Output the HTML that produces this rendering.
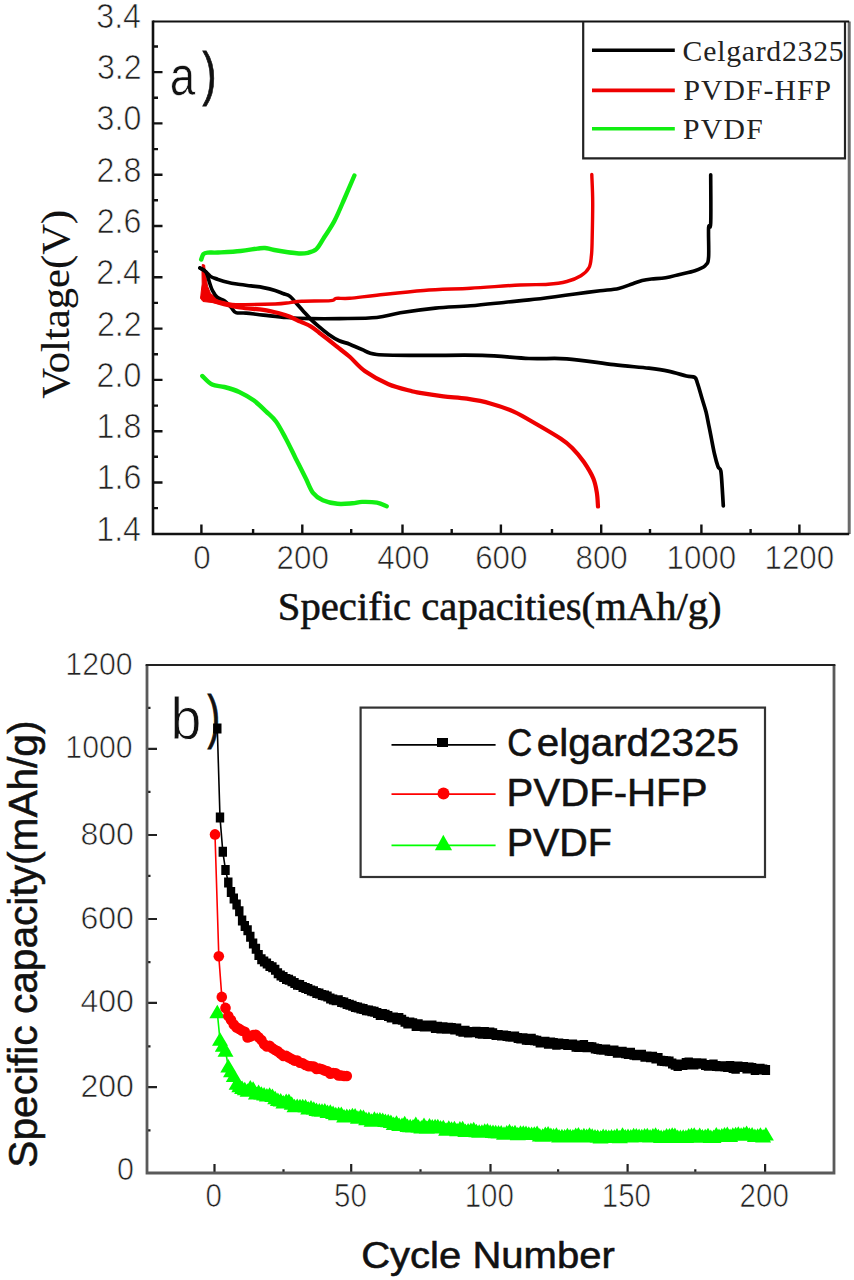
<!DOCTYPE html><html><head><meta charset="utf-8"><style>html,body{margin:0;padding:0;background:#fff;}svg{display:block;}</style></head><body>
<svg width="854" height="1280" viewBox="0 0 854 1280">
<rect width="854" height="1280" fill="#fff"/>
<path d="M153.0,508.1 h5 M153.0,482.5 h9.5 M153.0,456.8 h5 M153.0,431.2 h9.5 M153.0,405.6 h5 M153.0,379.9 h9.5 M153.0,354.2 h5 M153.0,328.6 h9.5 M153.0,302.9 h5 M153.0,277.3 h9.5 M153.0,251.6 h5 M153.0,226.0 h9.5 M153.0,200.3 h5 M153.0,174.7 h9.5 M153.0,149.1 h5 M153.0,123.4 h9.5 M153.0,97.7 h5 M153.0,72.1 h9.5 M153.0,46.5 h5 M201.4,534.0 v-9.5 M253.1,534.0 v-5 M302.3,534.0 v-9.5 M351.2,534.0 v-5 M402.5,534.0 v-9.5 M451.7,534.0 v-5 M500.9,534.0 v-9.5 M552.0,534.0 v-5 M601.2,534.0 v-9.5 M650.0,534.0 v-5 M701.4,534.0 v-9.5 M750.6,534.0 v-5 M799.4,534.0 v-9.5" stroke="#111" stroke-width="2.4" fill="none"/>
<text transform="translate(96.24,540.74) scale(0.9300,1)" font-family='"Liberation Sans", sans-serif' font-size="34.60" fill="#222" stroke="#fff" stroke-width="0.7">1.4</text>
<text transform="translate(96.72,489.44) scale(0.9300,1)" font-family='"Liberation Sans", sans-serif' font-size="34.60" fill="#222" stroke="#fff" stroke-width="0.7">1.6</text>
<text transform="translate(96.56,438.14) scale(0.9300,1)" font-family='"Liberation Sans", sans-serif' font-size="34.60" fill="#222" stroke="#fff" stroke-width="0.7">1.8</text>
<text transform="translate(96.56,386.84) scale(0.9300,1)" font-family='"Liberation Sans", sans-serif' font-size="34.60" fill="#222" stroke="#fff" stroke-width="0.7">2.0</text>
<text transform="translate(96.88,335.71) scale(0.9300,1)" font-family='"Liberation Sans", sans-serif' font-size="34.60" fill="#222" stroke="#fff" stroke-width="0.7">2.2</text>
<text transform="translate(96.24,284.41) scale(0.9300,1)" font-family='"Liberation Sans", sans-serif' font-size="34.60" fill="#222" stroke="#fff" stroke-width="0.7">2.4</text>
<text transform="translate(96.72,232.94) scale(0.9300,1)" font-family='"Liberation Sans", sans-serif' font-size="34.60" fill="#222" stroke="#fff" stroke-width="0.7">2.6</text>
<text transform="translate(96.56,181.64) scale(0.9300,1)" font-family='"Liberation Sans", sans-serif' font-size="34.60" fill="#222" stroke="#fff" stroke-width="0.7">2.8</text>
<text transform="translate(96.56,130.34) scale(0.9300,1)" font-family='"Liberation Sans", sans-serif' font-size="34.60" fill="#222" stroke="#fff" stroke-width="0.7">3.0</text>
<text transform="translate(96.88,79.04) scale(0.9300,1)" font-family='"Liberation Sans", sans-serif' font-size="34.60" fill="#222" stroke="#fff" stroke-width="0.7">3.2</text>
<text transform="translate(96.24,27.74) scale(0.9300,1)" font-family='"Liberation Sans", sans-serif' font-size="34.60" fill="#222" stroke="#fff" stroke-width="0.7">3.4</text>
<text transform="translate(193.21,568.96) scale(0.9350,1)" font-family='"Liberation Sans", sans-serif' font-size="33.50" fill="#222" stroke="#fff" stroke-width="0.7">0</text>
<text transform="translate(276.57,568.96) scale(0.9350,1)" font-family='"Liberation Sans", sans-serif' font-size="33.50" fill="#222" stroke="#fff" stroke-width="0.7">200</text>
<text transform="translate(377.16,568.96) scale(0.9350,1)" font-family='"Liberation Sans", sans-serif' font-size="33.50" fill="#222" stroke="#fff" stroke-width="0.7">400</text>
<text transform="translate(475.17,568.96) scale(0.9350,1)" font-family='"Liberation Sans", sans-serif' font-size="33.50" fill="#222" stroke="#fff" stroke-width="0.7">600</text>
<text transform="translate(575.55,568.96) scale(0.9350,1)" font-family='"Liberation Sans", sans-serif' font-size="33.50" fill="#222" stroke="#fff" stroke-width="0.7">800</text>
<text transform="translate(666.51,568.96) scale(0.9350,1)" font-family='"Liberation Sans", sans-serif' font-size="33.50" fill="#222" stroke="#fff" stroke-width="0.7">1000</text>
<text transform="translate(764.51,568.96) scale(0.9350,1)" font-family='"Liberation Sans", sans-serif' font-size="33.50" fill="#222" stroke="#fff" stroke-width="0.7">1200</text>
<text transform="translate(277.85,620.20) scale(1.0023,1)" font-family='"Liberation Serif", serif' font-size="40.60" fill="#111" stroke="#111" stroke-width="0.55">Specific capacities(mAh/g)</text>
<text transform="translate(69.40,398.63) rotate(-90) scale(1.0816,1)" font-family='"Liberation Serif", serif' font-size="39.50" fill="#111" stroke="#111" stroke-width="0.15">Voltage(V)</text>
<text transform="translate(169.64,95.34) scale(0.8247,1)" font-family='"Liberation Sans", sans-serif' font-size="55.64" fill="#111" stroke="#fff" stroke-width="0.7">a</text>
<text transform="translate(202.58,94.08) scale(0.7088,1)" font-family='"Liberation Sans", sans-serif' font-size="59.14" fill="#111" stroke="#111" stroke-width="0.8">)</text>
<path d="M201.2,259.5 C201.6,258.6 202.4,255.2 203.5,254.0 C204.6,252.8 205.6,252.8 208.0,252.6 C210.4,252.3 212.6,252.8 218.0,252.5 C223.4,252.2 234.0,251.7 240.6,251.0 C247.2,250.3 253.4,249.1 257.5,248.6 C261.6,248.1 262.2,247.8 265.0,248.0 C267.8,248.2 269.0,249.1 274.3,250.0 C279.6,250.9 291.2,252.8 296.8,253.3 C302.4,253.8 304.7,253.5 308.0,252.8 C311.3,252.1 313.8,251.6 316.5,249.0 C319.2,246.4 321.4,241.7 324.4,237.0 C327.4,232.3 331.1,227.3 334.4,221.0 C337.7,214.7 341.0,206.6 344.3,199.0 C347.6,191.4 352.7,179.4 354.4,175.5" stroke="#12ee12" stroke-width="4.4" fill="none" stroke-linejoin="round" stroke-linecap="round"/>
<path d="M202.3,376.0 C203.9,377.4 208.4,382.8 212.1,384.6 C215.8,386.4 219.9,385.8 224.4,387.0 C228.9,388.2 234.3,389.7 239.2,392.0 C244.1,394.3 249.5,397.3 254.0,400.6 C258.5,403.9 262.5,408.1 266.2,411.6 C269.9,415.1 272.7,417.0 276.0,421.5 C279.3,426.0 282.6,432.6 285.9,438.7 C289.2,444.8 292.4,451.8 295.7,458.4 C299.0,464.9 302.7,472.3 305.6,478.0 C308.5,483.7 310.1,489.1 313.0,492.8 C315.9,496.5 318.7,498.4 322.8,500.2 C326.9,502.0 332.6,503.3 337.5,503.8 C342.4,504.3 348.2,503.6 352.3,503.3 C356.4,503.0 358.0,502.0 362.1,501.9 C366.2,501.8 372.8,501.9 376.9,502.6 C381.0,503.3 385.1,505.7 386.7,506.3" stroke="#12ee12" stroke-width="4.4" fill="none" stroke-linejoin="round" stroke-linecap="round"/>
<path d="M202.3,264.5 L204.6,265.0 L205.6,275.0 L207.5,286.0 L210.5,293.5 L216.0,297.5 L222.0,300.0 L222.0,304.5 L212.0,302.5 L203.0,301.5 L200.6,298.5 L201.2,292.0 L202.2,284.0 L202.0,272.0Z" fill="#ee0000" stroke="#ee0000" stroke-width="1" stroke-linejoin="round"/>
<path d="M200.0,268.0 C201.0,268.6 204.3,269.4 205.9,271.9 C207.5,274.4 208.6,280.0 209.7,283.1 C210.8,286.2 211.2,288.2 212.5,290.6 C213.8,293.0 215.2,295.5 217.2,297.2 C219.2,298.9 222.4,299.2 224.7,300.9 C227.0,302.6 229.3,305.6 231.2,307.5 C233.1,309.4 233.4,311.7 235.9,312.6 C238.4,313.5 241.6,312.7 246.2,313.1 C250.8,313.5 256.6,314.4 263.4,315.1 C270.2,315.8 279.0,316.9 286.8,317.5 C294.6,318.1 301.5,318.4 310.3,318.6 C319.1,318.8 328.4,318.8 339.5,318.6 C350.6,318.4 366.7,318.5 376.8,317.5 C386.9,316.5 390.5,314.4 400.3,312.8 C410.1,311.2 423.7,309.3 435.4,308.1 C447.1,306.9 458.8,306.8 470.5,305.8 C482.2,304.8 495.9,303.2 505.6,302.2 C515.4,301.2 520.8,300.8 529.0,299.9 C537.2,299.0 547.4,297.7 555.1,296.7 C562.8,295.7 567.5,295.0 575.0,294.0 C582.5,293.0 592.7,291.6 600.0,290.7 C607.3,289.8 613.2,289.6 618.7,288.4 C624.2,287.2 628.9,285.0 632.8,283.7 C636.7,282.4 639.1,281.3 642.2,280.5 C645.3,279.7 647.6,279.4 651.5,279.0 C655.4,278.6 660.9,278.6 665.6,277.8 C670.3,277.0 674.7,275.6 679.6,274.4 C684.5,273.2 690.6,272.2 694.9,270.7 C699.2,269.2 703.1,267.7 705.4,265.4 C707.7,263.1 708.1,263.3 708.6,257.0 C709.1,250.7 708.2,233.1 708.6,227.5 C709.0,221.9 710.4,232.0 710.7,223.2 C711.1,214.4 710.7,182.9 710.7,174.8" stroke="#000" stroke-width="3.6" fill="none" stroke-linejoin="round" stroke-linecap="round"/>
<path d="M200.0,268.0 C201.0,268.6 204.1,270.5 205.9,271.9 C207.7,273.3 208.6,275.2 210.6,276.5 C212.6,277.8 215.3,278.4 218.1,279.4 C220.9,280.3 224.4,281.4 227.5,282.2 C230.6,283.0 232.9,283.4 236.8,284.0 C240.7,284.6 246.5,285.3 250.9,285.9 C255.3,286.5 259.4,286.8 263.4,287.6 C267.4,288.4 271.8,289.5 275.1,290.5 C278.4,291.5 280.5,292.5 283.0,293.5 C285.5,294.5 287.7,294.6 290.0,296.4 C292.3,298.2 294.7,301.5 297.0,304.1 C299.3,306.7 301.6,309.3 304.0,311.9 C306.4,314.5 308.8,317.3 311.1,319.6 C313.5,321.9 315.2,323.4 318.1,325.9 C321.0,328.4 325.2,331.9 328.7,334.4 C332.2,336.9 335.7,339.1 339.2,340.7 C342.7,342.3 345.9,342.7 349.7,344.2 C353.5,345.7 357.5,347.8 362.0,349.5 C366.5,351.2 366.5,353.5 376.8,354.5 C387.1,355.5 406.1,355.2 423.7,355.4 C441.3,355.5 464.6,354.9 482.2,355.4 C499.8,355.9 514.9,357.9 529.0,358.5 C543.1,359.1 552.7,357.8 566.8,358.8 C580.9,359.8 600.0,363.1 613.7,364.7 C627.4,366.3 639.7,367.1 648.8,368.2 C657.9,369.3 661.8,369.8 668.1,371.1 C674.4,372.4 682.0,374.9 686.4,376.0 C690.8,377.1 692.9,376.1 694.8,377.4 C696.7,378.7 696.4,380.3 697.6,383.7 C698.8,387.1 700.4,393.1 701.8,397.8 C703.2,402.5 704.8,407.1 706.0,411.8 C707.2,416.5 707.9,421.2 708.9,425.9 C709.9,430.6 710.8,435.3 711.7,440.0 C712.6,444.7 713.5,449.6 714.5,454.0 C715.5,458.4 717.0,463.8 718.0,466.6 C719.0,469.4 720.1,467.3 720.8,470.8 C721.5,474.3 721.8,481.8 722.2,487.7 C722.6,493.6 723.1,502.9 723.3,506.0" stroke="#000" stroke-width="3.7" fill="none" stroke-linejoin="round" stroke-linecap="round"/>
<path d="M202.2,297.2 C206.4,298.3 221.2,302.5 227.5,303.7 C233.8,304.9 232.1,304.6 240.0,304.6 C247.9,304.7 266.8,304.3 275.1,304.0 C283.4,303.7 285.5,303.1 290.0,302.6 C294.5,302.1 295.1,301.5 301.9,301.2 C308.7,300.9 325.1,301.1 330.8,300.6 C336.5,300.1 332.9,298.8 336.0,298.4 C339.1,298.0 342.9,298.8 349.7,298.3 C356.5,297.8 364.5,296.5 376.8,295.2 C389.1,293.9 408.1,291.7 423.7,290.5 C439.3,289.3 454.4,289.1 470.5,288.2 C486.6,287.3 507.1,285.6 520.0,285.0 C532.9,284.4 540.3,284.9 548.1,284.3 C555.9,283.7 561.3,282.9 566.8,281.5 C572.3,280.1 577.2,278.0 580.9,275.7 C584.6,273.4 587.4,270.8 589.1,267.5 C590.9,264.2 590.9,260.1 591.4,255.8 C591.9,251.5 591.9,250.6 592.1,241.7 C592.3,232.8 592.8,213.4 592.7,202.2 C592.7,191.0 591.9,179.1 591.8,174.5" stroke="#ee0000" stroke-width="3.4" fill="none" stroke-linejoin="round" stroke-linecap="round"/>
<path d="M206.0,298.0 C208.0,298.8 212.3,300.9 218.0,302.5 C223.7,304.1 232.4,306.3 240.0,307.5 C247.6,308.7 256.7,308.9 263.4,309.9 C270.1,310.9 275.6,312.4 280.0,313.5 C284.4,314.6 286.6,315.4 290.0,316.8 C293.4,318.2 297.0,320.1 300.5,321.7 C304.0,323.3 307.9,324.7 311.1,326.6 C314.3,328.5 316.6,330.8 319.5,333.0 C322.4,335.2 325.4,337.4 328.7,340.0 C332.0,342.6 335.7,345.6 339.2,348.4 C342.7,351.2 345.4,353.0 349.7,356.8 C354.0,360.6 358.6,366.7 365.1,371.3 C371.6,375.9 380.7,380.9 388.5,384.2 C396.3,387.5 406.8,389.8 412.0,391.2 C417.2,392.6 414.8,392.0 420.0,392.9 C425.2,393.8 435.6,395.4 443.4,396.4 C451.2,397.4 459.0,397.5 466.8,398.7 C474.6,399.9 482.5,401.2 490.3,403.4 C498.1,405.5 505.9,408.1 513.7,411.6 C521.5,415.1 529.3,420.0 537.1,424.5 C544.9,429.0 554.6,434.6 560.5,438.5 C566.4,442.4 568.3,444.0 572.2,447.9 C576.1,451.8 580.4,456.9 583.9,462.0 C587.4,467.1 591.1,473.3 593.3,478.4 C595.4,483.5 596.0,487.7 596.8,492.4 C597.6,497.1 597.8,504.1 598.0,506.5" stroke="#ee0000" stroke-width="4.2" fill="none" stroke-linejoin="round" stroke-linecap="round"/>
<path d="M849.2,21.5 V534.0" stroke="#6a6a6a" stroke-width="3"/>
<path d="M153.0,21.5 H849.2" stroke="#111" stroke-width="2"/>
<path d="M153.0,20.5 V534.0 H849.2" stroke="#111" stroke-width="2.6" fill="none"/>
<path d="M583.2,21.5 V158.3 H845 V21.5" stroke="#222" stroke-width="2.2" fill="none"/>
<path d="M592,50.3 H674.8" stroke="#000" stroke-width="3.6"/>
<path d="M592,90.4 H674.8" stroke="#ee0000" stroke-width="3.6"/>
<path d="M592,128.7 H674.8" stroke="#12ee12" stroke-width="3.6"/>
<text x="682.61" y="60.60" font-family='"Liberation Serif", serif' font-size="29.70" fill="#222" textLength="160.99" lengthAdjust="spacing" >Celgard2325</text>
<text x="683.41" y="100.00" font-family='"Liberation Serif", serif' font-size="29.70" fill="#222" textLength="147.56" lengthAdjust="spacing" >PVDF-HFP</text>
<text x="682.91" y="138.60" font-family='"Liberation Serif", serif' font-size="29.70" fill="#222" textLength="79.78" lengthAdjust="spacing" >PVDF</text>
<path d="M147.0,1130.3 h3.5 M147.0,1087.2 h10 M147.0,1046.3 h3.5 M147.0,1002.8 h10 M147.0,962.1 h3.5 M147.0,919.0 h10 M147.0,875.9 h3.5 M147.0,835.0 h10 M147.0,791.9 h3.5 M147.0,748.8 h10 M147.0,707.9 h3.5 M214.5,1173.0 v-9 M283.5,1173.0 v-3.8 M351.2,1173.0 v-9 M420.5,1173.0 v-3.8 M490.5,1173.0 v-9 M558.1,1173.0 v-3.8 M627.6,1173.0 v-9 M695.3,1173.0 v-3.8 M765.1,1173.0 v-9" stroke="#222" stroke-width="2.2" fill="none"/>
<text transform="translate(116.90,1179.77) scale(0.9500,1)" font-family='"Liberation Sans", sans-serif' font-size="32.10" fill="#222" stroke="#fff" stroke-width="0.7">0</text>
<text transform="translate(80.44,1096.77) scale(1.0000,1)" font-family='"Liberation Sans", sans-serif' font-size="32.10" fill="#222" stroke="#fff" stroke-width="0.7">200</text>
<text transform="translate(80.44,1012.37) scale(1.0000,1)" font-family='"Liberation Sans", sans-serif' font-size="32.10" fill="#222" stroke="#fff" stroke-width="0.7">400</text>
<text transform="translate(80.44,928.57) scale(1.0000,1)" font-family='"Liberation Sans", sans-serif' font-size="32.10" fill="#222" stroke="#fff" stroke-width="0.7">600</text>
<text transform="translate(80.44,844.57) scale(1.0000,1)" font-family='"Liberation Sans", sans-serif' font-size="32.10" fill="#222" stroke="#fff" stroke-width="0.7">800</text>
<text transform="translate(65.33,758.37) scale(0.9420,1)" font-family='"Liberation Sans", sans-serif' font-size="32.10" fill="#222" stroke="#fff" stroke-width="0.7">1000</text>
<text transform="translate(65.33,674.57) scale(0.9420,1)" font-family='"Liberation Sans", sans-serif' font-size="32.10" fill="#222" stroke="#fff" stroke-width="0.7">1200</text>
<text transform="translate(205.52,1207.18) scale(0.9100,1)" font-family='"Liberation Sans", sans-serif' font-size="32.40" fill="#222" stroke="#fff" stroke-width="0.7">0</text>
<text transform="translate(334.04,1207.18) scale(0.9100,1)" font-family='"Liberation Sans", sans-serif' font-size="32.40" fill="#222" stroke="#fff" stroke-width="0.7">50</text>
<text transform="translate(464.64,1207.18) scale(0.9100,1)" font-family='"Liberation Sans", sans-serif' font-size="32.40" fill="#222" stroke="#fff" stroke-width="0.7">100</text>
<text transform="translate(601.74,1207.18) scale(0.9100,1)" font-family='"Liberation Sans", sans-serif' font-size="32.40" fill="#222" stroke="#fff" stroke-width="0.7">150</text>
<text transform="translate(739.61,1207.18) scale(0.9100,1)" font-family='"Liberation Sans", sans-serif' font-size="32.40" fill="#222" stroke="#fff" stroke-width="0.7">200</text>
<text transform="translate(361.20,1267.70) scale(1.0849,1)" font-family='"Liberation Sans", sans-serif' font-size="36.90" fill="#111" stroke="#111" stroke-width="0.55">Cycle Number</text>
<text transform="translate(36.60,1167.63) rotate(-90) scale(0.9913,1)" font-family='"Liberation Sans", sans-serif' font-size="41.00" fill="#111" stroke="#111" stroke-width="0.55">Specific capacity(mAh/g)</text>
<text transform="translate(170.40,739.20) scale(0.9201,1)" font-family='"Liberation Sans", sans-serif' font-size="60.14" fill="#111" stroke="#fff" stroke-width="0.8">b</text>
<text transform="translate(207.42,737.47) scale(0.6316,1)" font-family='"Liberation Sans", sans-serif' font-size="59.68" fill="#111" stroke="#111" stroke-width="1">)</text>
<path d="M217.3,1012.6 L220.0,1040.1 L222.8,1046.0 L225.5,1051.1 L228.3,1066.7 L231.0,1071.5 L233.8,1076.4 L236.6,1084.1 L239.3,1086.5 L242.1,1088.2 L244.8,1089.4 L247.6,1091.0 L250.3,1087.6 L253.1,1089.0 L255.9,1093.6 L258.6,1092.2 L261.4,1093.9 L264.1,1094.8 L266.9,1095.6 L269.6,1095.1 L272.4,1096.4 L275.2,1098.5 L277.9,1100.3 L280.7,1100.6 L283.4,1102.6 L286.2,1101.3 L288.9,1101.4 L291.7,1104.0 L294.5,1106.4 L297.2,1106.2 L300.0,1106.5 L302.7,1106.6 L305.5,1106.7 L308.2,1108.6 L311.0,1107.8 L313.8,1108.9 L316.5,1110.1 L319.3,1110.9 L322.0,1111.0 L324.8,1110.8 L327.5,1112.3 L330.3,1112.0 L333.1,1113.3 L335.8,1114.6 L338.6,1114.2 L341.3,1114.2 L344.1,1116.8 L346.8,1116.2 L349.6,1116.6 L352.4,1115.5 L355.1,1115.7 L357.9,1118.0 L360.6,1116.6 L363.4,1117.4 L366.1,1119.6 L368.9,1119.3 L371.6,1120.9 L374.4,1119.0 L377.2,1120.0 L379.9,1119.6 L382.7,1120.4 L385.4,1121.2 L388.2,1121.5 L390.9,1122.4 L393.7,1124.3 L396.5,1123.0 L399.2,1125.4 L402.0,1125.2 L404.7,1123.5 L407.5,1126.3 L410.2,1126.5 L413.0,1126.7 L415.8,1124.4 L418.5,1127.0 L421.3,1127.8 L424.0,1125.3 L426.8,1128.0 L429.5,1125.8 L432.3,1126.7 L435.1,1126.5 L437.8,1126.4 L440.6,1127.8 L443.3,1127.4 L446.1,1129.9 L448.8,1128.0 L451.6,1128.9 L454.4,1128.5 L457.1,1130.5 L459.9,1128.8 L462.6,1128.5 L465.4,1131.3 L468.1,1130.7 L470.9,1130.2 L473.7,1129.6 L476.4,1131.5 L479.2,1131.9 L481.9,1131.9 L484.7,1131.0 L487.4,1130.8 L490.2,1132.1 L493.0,1132.4 L495.7,1132.5 L498.5,1132.8 L501.2,1132.8 L504.0,1133.9 L506.7,1132.8 L509.5,1131.6 L512.3,1133.4 L515.0,1132.6 L517.8,1134.4 L520.5,1133.0 L523.3,1133.0 L526.0,1133.4 L528.8,1134.0 L531.6,1134.3 L534.3,1133.9 L537.1,1133.3 L539.8,1135.7 L542.6,1136.0 L545.3,1134.2 L548.1,1133.9 L550.9,1135.2 L553.6,1135.6 L556.4,1134.9 L559.1,1136.7 L561.9,1136.5 L564.6,1136.7 L567.4,1135.6 L570.2,1136.4 L572.9,1136.7 L575.7,1135.4 L578.4,1134.6 L581.2,1136.6 L583.9,1135.4 L586.7,1136.3 L589.5,1135.1 L592.2,1135.9 L595.0,1136.9 L597.7,1137.1 L600.5,1137.7 L603.2,1136.4 L606.0,1136.7 L608.8,1137.3 L611.5,1136.8 L614.3,1137.0 L617.0,1135.6 L619.8,1137.6 L622.5,1135.1 L625.3,1136.6 L628.0,1136.3 L630.8,1136.7 L633.6,1135.6 L636.3,1135.6 L639.1,1136.4 L641.8,1136.6 L644.6,1135.9 L647.3,1135.4 L650.1,1136.8 L652.9,1135.8 L655.6,1135.1 L658.4,1136.5 L661.1,1137.2 L663.9,1137.2 L666.6,1135.8 L669.4,1135.9 L672.2,1135.0 L674.9,1135.3 L677.7,1137.1 L680.4,1137.2 L683.2,1137.0 L685.9,1137.2 L688.7,1135.7 L691.5,1135.2 L694.2,1135.1 L697.0,1137.0 L699.7,1135.1 L702.5,1136.8 L705.2,1136.4 L708.0,1135.5 L710.8,1137.4 L713.5,1137.2 L716.3,1134.8 L719.0,1136.2 L721.8,1135.8 L724.5,1134.9 L727.3,1134.4 L730.1,1136.2 L732.8,1135.0 L735.6,1134.5 L738.3,1134.1 L741.1,1135.1 L743.8,1134.1 L746.6,1133.2 L749.4,1135.1 L752.1,1134.8 L754.9,1136.2 L757.6,1135.9 L760.4,1134.9 L763.1,1136.7 L765.9,1134.6" stroke="#00ff00" stroke-width="1.6" fill="none"/>
<path d="M215.0,834.4 L218.8,956.3 L221.8,996.9 L225.5,1007.9 L228.3,1016.0 L231.0,1020.1 L233.8,1024.6 L236.6,1027.5 L239.3,1028.9 L242.1,1030.8 L244.8,1031.7 L247.6,1037.4 L250.3,1036.6 L253.1,1035.1 L255.9,1034.8 L258.6,1037.2 L261.4,1040.1 L264.1,1044.2 L266.9,1046.4 L269.6,1045.8 L272.4,1048.2 L275.2,1050.0 L277.9,1051.4 L280.7,1053.8 L283.4,1056.0 L286.2,1055.9 L288.9,1057.5 L291.7,1059.0 L294.5,1060.6 L297.2,1060.6 L300.0,1062.7 L302.7,1063.2 L305.5,1065.0 L308.2,1066.1 L311.0,1066.3 L313.8,1066.5 L316.5,1068.9 L319.3,1068.6 L322.0,1069.3 L324.8,1070.6 L327.5,1071.3 L330.3,1073.7 L333.1,1073.0 L335.8,1073.2 L338.6,1075.4 L341.3,1075.5 L344.1,1076.0 L346.8,1076.0" stroke="#ff0000" stroke-width="1.6" fill="none"/>
<path d="M217.3,728.5 L220.0,817.4 L222.8,851.7 L225.5,869.9 L228.3,882.5 L231.0,891.9 L233.8,898.4 L236.6,904.5 L239.3,911.2 L242.1,920.4 L244.8,925.9 L247.6,930.2 L250.3,936.8 L253.1,943.5 L255.9,948.8 L258.6,954.9 L261.4,959.2 L264.1,961.6 L266.9,963.4 L269.6,966.0 L272.4,967.3 L275.2,969.8 L277.9,973.2 L280.7,975.5 L283.4,977.0 L286.2,979.1 L288.9,979.7 L291.7,981.3 L294.5,983.0 L297.2,984.8 L300.0,985.1 L302.7,986.9 L305.5,988.0 L308.2,989.1 L311.0,990.4 L313.8,991.2 L316.5,993.0 L319.3,993.5 L322.0,995.0 L324.8,995.4 L327.5,996.5 L330.3,998.4 L333.1,999.4 L335.8,1000.3 L338.6,1000.3 L341.3,1001.9 L344.1,1002.6 L346.8,1004.0 L349.6,1004.7 L352.4,1005.8 L355.1,1006.9 L357.9,1007.5 L360.6,1008.5 L363.4,1009.1 L366.1,1010.2 L368.9,1010.5 L371.6,1011.3 L374.4,1011.8 L377.2,1012.9 L379.9,1014.9 L382.7,1014.1 L385.4,1014.8 L388.2,1015.9 L390.9,1017.6 L393.7,1017.6 L396.5,1019.3 L399.2,1018.1 L402.0,1019.8 L404.7,1021.7 L407.5,1023.4 L410.2,1022.5 L413.0,1023.2 L415.8,1025.9 L418.5,1024.3 L421.3,1025.6 L424.0,1026.5 L426.8,1026.5 L429.5,1025.5 L432.3,1025.5 L435.1,1027.9 L437.8,1026.8 L440.6,1028.6 L443.3,1027.3 L446.1,1028.7 L448.8,1027.7 L451.6,1027.9 L454.4,1029.5 L457.1,1028.6 L459.9,1030.8 L462.6,1031.7 L465.4,1030.7 L468.1,1032.4 L470.9,1032.3 L473.7,1032.0 L476.4,1031.8 L479.2,1033.2 L481.9,1033.8 L484.7,1032.0 L487.4,1033.9 L490.2,1032.6 L493.0,1033.2 L495.7,1034.9 L498.5,1035.1 L501.2,1035.4 L504.0,1035.5 L506.7,1036.0 L509.5,1036.5 L512.3,1036.8 L515.0,1036.4 L517.8,1037.9 L520.5,1038.5 L523.3,1038.2 L526.0,1039.8 L528.8,1040.0 L531.6,1038.7 L534.3,1040.3 L537.1,1040.7 L539.8,1042.4 L542.6,1041.8 L545.3,1041.8 L548.1,1043.7 L550.9,1042.6 L553.6,1042.9 L556.4,1044.7 L559.1,1043.5 L561.9,1044.2 L564.6,1043.9 L567.4,1045.0 L570.2,1044.4 L572.9,1044.6 L575.7,1046.7 L578.4,1046.9 L581.2,1045.6 L583.9,1045.1 L586.7,1047.2 L589.5,1047.0 L592.2,1047.3 L595.0,1048.6 L597.7,1048.9 L600.5,1049.5 L603.2,1049.8 L606.0,1049.6 L608.8,1050.8 L611.5,1051.0 L614.3,1050.4 L617.0,1052.7 L619.8,1051.8 L622.5,1051.8 L625.3,1053.3 L628.0,1053.9 L630.8,1052.8 L633.6,1054.7 L636.3,1055.2 L639.1,1055.0 L641.8,1054.8 L644.6,1056.7 L647.3,1056.5 L650.1,1057.2 L652.9,1056.7 L655.6,1058.5 L658.4,1058.1 L661.1,1060.7 L663.9,1061.1 L666.6,1061.2 L669.4,1061.5 L672.2,1063.5 L674.9,1064.8 L677.7,1065.9 L680.4,1064.6 L683.2,1065.0 L685.9,1063.0 L688.7,1062.5 L691.5,1064.4 L694.2,1064.4 L697.0,1063.2 L699.7,1063.8 L702.5,1063.6 L705.2,1065.0 L708.0,1065.7 L710.8,1065.5 L713.5,1064.5 L716.3,1066.1 L719.0,1066.2 L721.8,1066.3 L724.5,1066.6 L727.3,1066.9 L730.1,1065.9 L732.8,1068.1 L735.6,1068.7 L738.3,1066.6 L741.1,1067.0 L743.8,1067.0 L746.6,1068.6 L749.4,1067.6 L752.1,1067.9 L754.9,1069.9 L757.6,1068.8 L760.4,1068.8 L763.1,1069.5 L765.9,1070.1" stroke="#000" stroke-width="1.6" fill="none"/>
<path d="M217.3,1004.8L225.3,1018.3L209.3,1018.3zM220.0,1032.3L228.0,1045.8L212.0,1045.8zM222.8,1038.3L230.8,1051.8L214.8,1051.8zM225.5,1043.3L233.5,1056.8L217.5,1056.8zM228.3,1059.0L236.3,1072.5L220.3,1072.5zM231.0,1063.8L239.0,1077.3L223.0,1077.3zM233.8,1068.6L241.8,1082.1L225.8,1082.1zM236.6,1076.3L244.6,1089.8L228.6,1089.8zM239.3,1078.7L247.3,1092.2L231.3,1092.2zM242.1,1080.4L250.1,1093.9L234.1,1093.9zM244.8,1081.7L252.8,1095.2L236.8,1095.2zM247.6,1083.2L255.6,1096.7L239.6,1096.7zM250.3,1079.9L258.3,1093.4L242.3,1093.4zM253.1,1081.2L261.1,1094.7L245.1,1094.7zM255.9,1085.9L263.9,1099.4L247.9,1099.4zM258.6,1084.5L266.6,1098.0L250.6,1098.0zM261.4,1086.2L269.4,1099.7L253.4,1099.7zM264.1,1087.1L272.1,1100.6L256.1,1100.6zM266.9,1087.9L274.9,1101.4L258.9,1101.4zM269.6,1087.3L277.6,1100.8L261.6,1100.8zM272.4,1088.6L280.4,1102.1L264.4,1102.1zM275.2,1090.7L283.2,1104.2L267.2,1104.2zM277.9,1092.6L285.9,1106.1L269.9,1106.1zM280.7,1092.9L288.7,1106.4L272.7,1106.4zM283.4,1094.9L291.4,1108.4L275.4,1108.4zM286.2,1093.6L294.2,1107.1L278.2,1107.1zM288.9,1093.6L296.9,1107.1L280.9,1107.1zM291.7,1096.2L299.7,1109.7L283.7,1109.7zM294.5,1098.7L302.5,1112.2L286.5,1112.2zM297.2,1098.5L305.2,1112.0L289.2,1112.0zM300.0,1098.7L308.0,1112.2L292.0,1112.2zM302.7,1098.8L310.7,1112.3L294.7,1112.3zM305.5,1099.0L313.5,1112.5L297.5,1112.5zM308.2,1100.9L316.2,1114.4L300.2,1114.4zM311.0,1100.0L319.0,1113.5L303.0,1113.5zM313.8,1101.2L321.8,1114.7L305.8,1114.7zM316.5,1102.4L324.5,1115.9L308.5,1115.9zM319.3,1103.1L327.3,1116.6L311.3,1116.6zM322.0,1103.2L330.0,1116.7L314.0,1116.7zM324.8,1103.1L332.8,1116.6L316.8,1116.6zM327.5,1104.6L335.5,1118.1L319.5,1118.1zM330.3,1104.2L338.3,1117.7L322.3,1117.7zM333.1,1105.6L341.1,1119.1L325.1,1119.1zM335.8,1106.8L343.8,1120.3L327.8,1120.3zM338.6,1106.4L346.6,1119.9L330.6,1119.9zM341.3,1106.4L349.3,1119.9L333.3,1119.9zM344.1,1109.1L352.1,1122.6L336.1,1122.6zM346.8,1108.4L354.8,1121.9L338.8,1121.9zM349.6,1108.8L357.6,1122.3L341.6,1122.3zM352.4,1107.7L360.4,1121.2L344.4,1121.2zM355.1,1107.9L363.1,1121.4L347.1,1121.4zM357.9,1110.2L365.9,1123.7L349.9,1123.7zM360.6,1108.9L368.6,1122.4L352.6,1122.4zM363.4,1109.6L371.4,1123.1L355.4,1123.1zM366.1,1111.8L374.1,1125.3L358.1,1125.3zM368.9,1111.6L376.9,1125.1L360.9,1125.1zM371.6,1113.2L379.6,1126.7L363.6,1126.7zM374.4,1111.3L382.4,1124.8L366.4,1124.8zM377.2,1112.2L385.2,1125.7L369.2,1125.7zM379.9,1111.9L387.9,1125.4L371.9,1125.4zM382.7,1112.6L390.7,1126.1L374.7,1126.1zM385.4,1113.5L393.4,1127.0L377.4,1127.0zM388.2,1113.7L396.2,1127.2L380.2,1127.2zM390.9,1114.6L398.9,1128.1L382.9,1128.1zM393.7,1116.6L401.7,1130.1L385.7,1130.1zM396.5,1115.3L404.5,1128.8L388.5,1128.8zM399.2,1117.6L407.2,1131.1L391.2,1131.1zM402.0,1117.5L410.0,1131.0L394.0,1131.0zM404.7,1115.7L412.7,1129.2L396.7,1129.2zM407.5,1118.5L415.5,1132.0L399.5,1132.0zM410.2,1118.7L418.2,1132.2L402.2,1132.2zM413.0,1119.0L421.0,1132.5L405.0,1132.5zM415.8,1116.6L423.8,1130.1L407.8,1130.1zM418.5,1119.3L426.5,1132.8L410.5,1132.8zM421.3,1120.0L429.3,1133.5L413.3,1133.5zM424.0,1117.5L432.0,1131.0L416.0,1131.0zM426.8,1120.2L434.8,1133.7L418.8,1133.7zM429.5,1118.1L437.5,1131.6L421.5,1131.6zM432.3,1118.9L440.3,1132.4L424.3,1132.4zM435.1,1118.8L443.1,1132.3L427.1,1132.3zM437.8,1118.7L445.8,1132.2L429.8,1132.2zM440.6,1120.1L448.6,1133.6L432.6,1133.6zM443.3,1119.7L451.3,1133.2L435.3,1133.2zM446.1,1122.2L454.1,1135.7L438.1,1135.7zM448.8,1120.2L456.8,1133.7L440.8,1133.7zM451.6,1121.2L459.6,1134.7L443.6,1134.7zM454.4,1120.8L462.4,1134.3L446.4,1134.3zM457.1,1122.8L465.1,1136.3L449.1,1136.3zM459.9,1121.1L467.9,1134.6L451.9,1134.6zM462.6,1120.7L470.6,1134.2L454.6,1134.2zM465.4,1123.5L473.4,1137.0L457.4,1137.0zM468.1,1122.9L476.1,1136.4L460.1,1136.4zM470.9,1122.4L478.9,1135.9L462.9,1135.9zM473.7,1121.8L481.7,1135.3L465.7,1135.3zM476.4,1123.8L484.4,1137.3L468.4,1137.3zM479.2,1124.2L487.2,1137.7L471.2,1137.7zM481.9,1124.2L489.9,1137.7L473.9,1137.7zM484.7,1123.3L492.7,1136.8L476.7,1136.8zM487.4,1123.1L495.4,1136.6L479.4,1136.6zM490.2,1124.3L498.2,1137.8L482.2,1137.8zM493.0,1124.6L501.0,1138.1L485.0,1138.1zM495.7,1124.7L503.7,1138.2L487.7,1138.2zM498.5,1125.1L506.5,1138.6L490.5,1138.6zM501.2,1125.0L509.2,1138.5L493.2,1138.5zM504.0,1126.2L512.0,1139.7L496.0,1139.7zM506.7,1125.1L514.7,1138.6L498.7,1138.6zM509.5,1123.8L517.5,1137.3L501.5,1137.3zM512.3,1125.6L520.3,1139.1L504.3,1139.1zM515.0,1124.8L523.0,1138.3L507.0,1138.3zM517.8,1126.7L525.8,1140.2L509.8,1140.2zM520.5,1125.3L528.5,1138.8L512.5,1138.8zM523.3,1125.2L531.3,1138.7L515.3,1138.7zM526.0,1125.6L534.0,1139.1L518.0,1139.1zM528.8,1126.3L536.8,1139.8L520.8,1139.8zM531.6,1126.5L539.6,1140.0L523.6,1140.0zM534.3,1126.2L542.3,1139.7L526.3,1139.7zM537.1,1125.6L545.1,1139.1L529.1,1139.1zM539.8,1128.0L547.8,1141.5L531.8,1141.5zM542.6,1128.3L550.6,1141.8L534.6,1141.8zM545.3,1126.5L553.3,1140.0L537.3,1140.0zM548.1,1126.1L556.1,1139.6L540.1,1139.6zM550.9,1127.5L558.9,1141.0L542.9,1141.0zM553.6,1127.9L561.6,1141.4L545.6,1141.4zM556.4,1127.2L564.4,1140.7L548.4,1140.7zM559.1,1128.9L567.1,1142.4L551.1,1142.4zM561.9,1128.7L569.9,1142.2L553.9,1142.2zM564.6,1129.0L572.6,1142.5L556.6,1142.5zM567.4,1127.8L575.4,1141.3L559.4,1141.3zM570.2,1128.7L578.2,1142.2L562.2,1142.2zM572.9,1129.0L580.9,1142.5L564.9,1142.5zM575.7,1127.6L583.7,1141.1L567.7,1141.1zM578.4,1126.9L586.4,1140.4L570.4,1140.4zM581.2,1128.9L589.2,1142.4L573.2,1142.4zM583.9,1127.7L591.9,1141.2L575.9,1141.2zM586.7,1128.6L594.7,1142.1L578.7,1142.1zM589.5,1127.3L597.5,1140.8L581.5,1140.8zM592.2,1128.2L600.2,1141.7L584.2,1141.7zM595.0,1129.1L603.0,1142.6L587.0,1142.6zM597.7,1129.3L605.7,1142.8L589.7,1142.8zM600.5,1129.9L608.5,1143.4L592.5,1143.4zM603.2,1128.6L611.2,1142.1L595.2,1142.1zM606.0,1128.9L614.0,1142.4L598.0,1142.4zM608.8,1129.6L616.8,1143.1L600.8,1143.1zM611.5,1129.1L619.5,1142.6L603.5,1142.6zM614.3,1129.2L622.3,1142.7L606.3,1142.7zM617.0,1127.9L625.0,1141.4L609.0,1141.4zM619.8,1129.8L627.8,1143.3L611.8,1143.3zM622.5,1127.3L630.5,1140.8L614.5,1140.8zM625.3,1128.9L633.3,1142.4L617.3,1142.4zM628.0,1128.6L636.0,1142.1L620.0,1142.1zM630.8,1128.9L638.8,1142.4L622.8,1142.4zM633.6,1127.8L641.6,1141.3L625.6,1141.3zM636.3,1127.9L644.3,1141.4L628.3,1141.4zM639.1,1128.6L647.1,1142.1L631.1,1142.1zM641.8,1128.8L649.8,1142.3L633.8,1142.3zM644.6,1128.1L652.6,1141.6L636.6,1141.6zM647.3,1127.7L655.3,1141.2L639.3,1141.2zM650.1,1129.0L658.1,1142.5L642.1,1142.5zM652.9,1128.0L660.9,1141.5L644.9,1141.5zM655.6,1127.3L663.6,1140.8L647.6,1140.8zM658.4,1128.8L666.4,1142.3L650.4,1142.3zM661.1,1129.5L669.1,1143.0L653.1,1143.0zM663.9,1129.4L671.9,1142.9L655.9,1142.9zM666.6,1128.0L674.6,1141.5L658.6,1141.5zM669.4,1128.1L677.4,1141.6L661.4,1141.6zM672.2,1127.3L680.2,1140.8L664.2,1140.8zM674.9,1127.6L682.9,1141.1L666.9,1141.1zM677.7,1129.4L685.7,1142.9L669.7,1142.9zM680.4,1129.5L688.4,1143.0L672.4,1143.0zM683.2,1129.3L691.2,1142.8L675.2,1142.8zM685.9,1129.5L693.9,1143.0L677.9,1143.0zM688.7,1127.9L696.7,1141.4L680.7,1141.4zM691.5,1127.5L699.5,1141.0L683.5,1141.0zM694.2,1127.3L702.2,1140.8L686.2,1140.8zM697.0,1129.2L705.0,1142.7L689.0,1142.7zM699.7,1127.4L707.7,1140.9L691.7,1140.9zM702.5,1129.0L710.5,1142.5L694.5,1142.5zM705.2,1128.7L713.2,1142.2L697.2,1142.2zM708.0,1127.8L716.0,1141.3L700.0,1141.3zM710.8,1129.6L718.8,1143.1L702.8,1143.1zM713.5,1129.4L721.5,1142.9L705.5,1142.9zM716.3,1127.0L724.3,1140.5L708.3,1140.5zM719.0,1128.4L727.0,1141.9L711.0,1141.9zM721.8,1128.0L729.8,1141.5L713.8,1141.5zM724.5,1127.1L732.5,1140.6L716.5,1140.6zM727.3,1126.6L735.3,1140.1L719.3,1140.1zM730.1,1128.4L738.1,1141.9L722.1,1141.9zM732.8,1127.2L740.8,1140.7L724.8,1140.7zM735.6,1126.7L743.6,1140.2L727.6,1140.2zM738.3,1126.3L746.3,1139.8L730.3,1139.8zM741.1,1127.3L749.1,1140.8L733.1,1140.8zM743.8,1126.4L751.8,1139.9L735.8,1139.9zM746.6,1125.5L754.6,1139.0L738.6,1139.0zM749.4,1127.3L757.4,1140.8L741.4,1140.8zM752.1,1127.0L760.1,1140.5L744.1,1140.5zM754.9,1128.5L762.9,1142.0L746.9,1142.0zM757.6,1128.2L765.6,1141.7L749.6,1141.7zM760.4,1127.2L768.4,1140.7L752.4,1140.7zM763.1,1129.0L771.1,1142.5L755.1,1142.5zM765.9,1126.9L773.9,1140.4L757.9,1140.4z" fill="#00ff00"/>
<circle cx="215.0" cy="834.4" r="5.3" fill="#ff0000"/><circle cx="218.8" cy="956.3" r="5.3" fill="#ff0000"/><circle cx="221.8" cy="996.9" r="5.3" fill="#ff0000"/><circle cx="225.5" cy="1007.9" r="5.3" fill="#ff0000"/><circle cx="228.3" cy="1016.0" r="5.3" fill="#ff0000"/><circle cx="231.0" cy="1020.1" r="5.3" fill="#ff0000"/><circle cx="233.8" cy="1024.6" r="5.3" fill="#ff0000"/><circle cx="236.6" cy="1027.5" r="5.3" fill="#ff0000"/><circle cx="239.3" cy="1028.9" r="5.3" fill="#ff0000"/><circle cx="242.1" cy="1030.8" r="5.3" fill="#ff0000"/><circle cx="244.8" cy="1031.7" r="5.3" fill="#ff0000"/><circle cx="247.6" cy="1037.4" r="5.3" fill="#ff0000"/><circle cx="250.3" cy="1036.6" r="5.3" fill="#ff0000"/><circle cx="253.1" cy="1035.1" r="5.3" fill="#ff0000"/><circle cx="255.9" cy="1034.8" r="5.3" fill="#ff0000"/><circle cx="258.6" cy="1037.2" r="5.3" fill="#ff0000"/><circle cx="261.4" cy="1040.1" r="5.3" fill="#ff0000"/><circle cx="264.1" cy="1044.2" r="5.3" fill="#ff0000"/><circle cx="266.9" cy="1046.4" r="5.3" fill="#ff0000"/><circle cx="269.6" cy="1045.8" r="5.3" fill="#ff0000"/><circle cx="272.4" cy="1048.2" r="5.3" fill="#ff0000"/><circle cx="275.2" cy="1050.0" r="5.3" fill="#ff0000"/><circle cx="277.9" cy="1051.4" r="5.3" fill="#ff0000"/><circle cx="280.7" cy="1053.8" r="5.3" fill="#ff0000"/><circle cx="283.4" cy="1056.0" r="5.3" fill="#ff0000"/><circle cx="286.2" cy="1055.9" r="5.3" fill="#ff0000"/><circle cx="288.9" cy="1057.5" r="5.3" fill="#ff0000"/><circle cx="291.7" cy="1059.0" r="5.3" fill="#ff0000"/><circle cx="294.5" cy="1060.6" r="5.3" fill="#ff0000"/><circle cx="297.2" cy="1060.6" r="5.3" fill="#ff0000"/><circle cx="300.0" cy="1062.7" r="5.3" fill="#ff0000"/><circle cx="302.7" cy="1063.2" r="5.3" fill="#ff0000"/><circle cx="305.5" cy="1065.0" r="5.3" fill="#ff0000"/><circle cx="308.2" cy="1066.1" r="5.3" fill="#ff0000"/><circle cx="311.0" cy="1066.3" r="5.3" fill="#ff0000"/><circle cx="313.8" cy="1066.5" r="5.3" fill="#ff0000"/><circle cx="316.5" cy="1068.9" r="5.3" fill="#ff0000"/><circle cx="319.3" cy="1068.6" r="5.3" fill="#ff0000"/><circle cx="322.0" cy="1069.3" r="5.3" fill="#ff0000"/><circle cx="324.8" cy="1070.6" r="5.3" fill="#ff0000"/><circle cx="327.5" cy="1071.3" r="5.3" fill="#ff0000"/><circle cx="330.3" cy="1073.7" r="5.3" fill="#ff0000"/><circle cx="333.1" cy="1073.0" r="5.3" fill="#ff0000"/><circle cx="335.8" cy="1073.2" r="5.3" fill="#ff0000"/><circle cx="338.6" cy="1075.4" r="5.3" fill="#ff0000"/><circle cx="341.3" cy="1075.5" r="5.3" fill="#ff0000"/><circle cx="344.1" cy="1076.0" r="5.3" fill="#ff0000"/><circle cx="346.8" cy="1076.0" r="5.3" fill="#ff0000"/>
<path d="M213.1,723.5h8.4v10h-8.4zM215.8,812.4h8.4v10h-8.4zM218.6,846.7h8.4v10h-8.4zM221.3,864.9h8.4v10h-8.4zM224.1,877.5h8.4v10h-8.4zM226.8,886.9h8.4v10h-8.4zM229.6,893.4h8.4v10h-8.4zM232.4,899.5h8.4v10h-8.4zM235.1,906.2h8.4v10h-8.4zM237.9,915.4h8.4v10h-8.4zM240.6,920.9h8.4v10h-8.4zM243.4,925.2h8.4v10h-8.4zM246.1,931.8h8.4v10h-8.4zM248.9,938.5h8.4v10h-8.4zM251.7,943.8h8.4v10h-8.4zM254.4,949.9h8.4v10h-8.4zM257.2,954.2h8.4v10h-8.4zM259.9,956.6h8.4v10h-8.4zM262.7,958.4h8.4v10h-8.4zM265.4,961.0h8.4v10h-8.4zM268.2,962.3h8.4v10h-8.4zM271.0,964.8h8.4v10h-8.4zM273.7,968.2h8.4v10h-8.4zM276.5,970.5h8.4v10h-8.4zM279.2,972.0h8.4v10h-8.4zM282.0,974.1h8.4v10h-8.4zM284.7,974.7h8.4v10h-8.4zM287.5,976.3h8.4v10h-8.4zM290.3,978.0h8.4v10h-8.4zM293.0,979.8h8.4v10h-8.4zM295.8,980.1h8.4v10h-8.4zM298.5,981.9h8.4v10h-8.4zM301.3,983.0h8.4v10h-8.4zM304.0,984.1h8.4v10h-8.4zM306.8,985.4h8.4v10h-8.4zM309.6,986.2h8.4v10h-8.4zM312.3,988.0h8.4v10h-8.4zM315.1,988.5h8.4v10h-8.4zM317.8,990.0h8.4v10h-8.4zM320.6,990.4h8.4v10h-8.4zM323.3,991.5h8.4v10h-8.4zM326.1,993.4h8.4v10h-8.4zM328.9,994.4h8.4v10h-8.4zM331.6,995.3h8.4v10h-8.4zM334.4,995.3h8.4v10h-8.4zM337.1,996.9h8.4v10h-8.4zM339.9,997.6h8.4v10h-8.4zM342.6,999.0h8.4v10h-8.4zM345.4,999.7h8.4v10h-8.4zM348.2,1000.8h8.4v10h-8.4zM350.9,1001.9h8.4v10h-8.4zM353.7,1002.5h8.4v10h-8.4zM356.4,1003.5h8.4v10h-8.4zM359.2,1004.1h8.4v10h-8.4zM361.9,1005.2h8.4v10h-8.4zM364.7,1005.5h8.4v10h-8.4zM367.4,1006.3h8.4v10h-8.4zM370.2,1006.8h8.4v10h-8.4zM373.0,1007.9h8.4v10h-8.4zM375.7,1009.9h8.4v10h-8.4zM378.5,1009.1h8.4v10h-8.4zM381.2,1009.8h8.4v10h-8.4zM384.0,1010.9h8.4v10h-8.4zM386.7,1012.6h8.4v10h-8.4zM389.5,1012.6h8.4v10h-8.4zM392.3,1014.3h8.4v10h-8.4zM395.0,1013.1h8.4v10h-8.4zM397.8,1014.8h8.4v10h-8.4zM400.5,1016.7h8.4v10h-8.4zM403.3,1018.4h8.4v10h-8.4zM406.0,1017.5h8.4v10h-8.4zM408.8,1018.2h8.4v10h-8.4zM411.6,1020.9h8.4v10h-8.4zM414.3,1019.3h8.4v10h-8.4zM417.1,1020.6h8.4v10h-8.4zM419.8,1021.5h8.4v10h-8.4zM422.6,1021.5h8.4v10h-8.4zM425.3,1020.5h8.4v10h-8.4zM428.1,1020.5h8.4v10h-8.4zM430.9,1022.9h8.4v10h-8.4zM433.6,1021.8h8.4v10h-8.4zM436.4,1023.6h8.4v10h-8.4zM439.1,1022.3h8.4v10h-8.4zM441.9,1023.7h8.4v10h-8.4zM444.6,1022.7h8.4v10h-8.4zM447.4,1022.9h8.4v10h-8.4zM450.2,1024.5h8.4v10h-8.4zM452.9,1023.6h8.4v10h-8.4zM455.7,1025.8h8.4v10h-8.4zM458.4,1026.7h8.4v10h-8.4zM461.2,1025.7h8.4v10h-8.4zM463.9,1027.4h8.4v10h-8.4zM466.7,1027.3h8.4v10h-8.4zM469.5,1027.0h8.4v10h-8.4zM472.2,1026.8h8.4v10h-8.4zM475.0,1028.2h8.4v10h-8.4zM477.7,1028.8h8.4v10h-8.4zM480.5,1027.0h8.4v10h-8.4zM483.2,1028.9h8.4v10h-8.4zM486.0,1027.6h8.4v10h-8.4zM488.8,1028.2h8.4v10h-8.4zM491.5,1029.9h8.4v10h-8.4zM494.3,1030.1h8.4v10h-8.4zM497.0,1030.4h8.4v10h-8.4zM499.8,1030.5h8.4v10h-8.4zM502.5,1031.0h8.4v10h-8.4zM505.3,1031.5h8.4v10h-8.4zM508.1,1031.8h8.4v10h-8.4zM510.8,1031.4h8.4v10h-8.4zM513.6,1032.9h8.4v10h-8.4zM516.3,1033.5h8.4v10h-8.4zM519.1,1033.2h8.4v10h-8.4zM521.8,1034.8h8.4v10h-8.4zM524.6,1035.0h8.4v10h-8.4zM527.4,1033.7h8.4v10h-8.4zM530.1,1035.3h8.4v10h-8.4zM532.9,1035.7h8.4v10h-8.4zM535.6,1037.4h8.4v10h-8.4zM538.4,1036.8h8.4v10h-8.4zM541.1,1036.8h8.4v10h-8.4zM543.9,1038.7h8.4v10h-8.4zM546.7,1037.6h8.4v10h-8.4zM549.4,1037.9h8.4v10h-8.4zM552.2,1039.7h8.4v10h-8.4zM554.9,1038.5h8.4v10h-8.4zM557.7,1039.2h8.4v10h-8.4zM560.4,1038.9h8.4v10h-8.4zM563.2,1040.0h8.4v10h-8.4zM566.0,1039.4h8.4v10h-8.4zM568.7,1039.6h8.4v10h-8.4zM571.5,1041.7h8.4v10h-8.4zM574.2,1041.9h8.4v10h-8.4zM577.0,1040.6h8.4v10h-8.4zM579.7,1040.1h8.4v10h-8.4zM582.5,1042.2h8.4v10h-8.4zM585.3,1042.0h8.4v10h-8.4zM588.0,1042.3h8.4v10h-8.4zM590.8,1043.6h8.4v10h-8.4zM593.5,1043.9h8.4v10h-8.4zM596.3,1044.5h8.4v10h-8.4zM599.0,1044.8h8.4v10h-8.4zM601.8,1044.6h8.4v10h-8.4zM604.6,1045.8h8.4v10h-8.4zM607.3,1046.0h8.4v10h-8.4zM610.1,1045.4h8.4v10h-8.4zM612.8,1047.7h8.4v10h-8.4zM615.6,1046.8h8.4v10h-8.4zM618.3,1046.8h8.4v10h-8.4zM621.1,1048.3h8.4v10h-8.4zM623.8,1048.9h8.4v10h-8.4zM626.6,1047.8h8.4v10h-8.4zM629.4,1049.7h8.4v10h-8.4zM632.1,1050.2h8.4v10h-8.4zM634.9,1050.0h8.4v10h-8.4zM637.6,1049.8h8.4v10h-8.4zM640.4,1051.7h8.4v10h-8.4zM643.1,1051.5h8.4v10h-8.4zM645.9,1052.2h8.4v10h-8.4zM648.7,1051.7h8.4v10h-8.4zM651.4,1053.5h8.4v10h-8.4zM654.2,1053.1h8.4v10h-8.4zM656.9,1055.7h8.4v10h-8.4zM659.7,1056.1h8.4v10h-8.4zM662.4,1056.2h8.4v10h-8.4zM665.2,1056.5h8.4v10h-8.4zM668.0,1058.5h8.4v10h-8.4zM670.7,1059.8h8.4v10h-8.4zM673.5,1060.9h8.4v10h-8.4zM676.2,1059.6h8.4v10h-8.4zM679.0,1060.0h8.4v10h-8.4zM681.7,1058.0h8.4v10h-8.4zM684.5,1057.5h8.4v10h-8.4zM687.3,1059.4h8.4v10h-8.4zM690.0,1059.4h8.4v10h-8.4zM692.8,1058.2h8.4v10h-8.4zM695.5,1058.8h8.4v10h-8.4zM698.3,1058.6h8.4v10h-8.4zM701.0,1060.0h8.4v10h-8.4zM703.8,1060.7h8.4v10h-8.4zM706.6,1060.5h8.4v10h-8.4zM709.3,1059.5h8.4v10h-8.4zM712.1,1061.1h8.4v10h-8.4zM714.8,1061.2h8.4v10h-8.4zM717.6,1061.3h8.4v10h-8.4zM720.3,1061.6h8.4v10h-8.4zM723.1,1061.9h8.4v10h-8.4zM725.9,1060.9h8.4v10h-8.4zM728.6,1063.1h8.4v10h-8.4zM731.4,1063.7h8.4v10h-8.4zM734.1,1061.6h8.4v10h-8.4zM736.9,1062.0h8.4v10h-8.4zM739.6,1062.0h8.4v10h-8.4zM742.4,1063.6h8.4v10h-8.4zM745.2,1062.6h8.4v10h-8.4zM747.9,1062.9h8.4v10h-8.4zM750.7,1064.9h8.4v10h-8.4zM753.4,1063.8h8.4v10h-8.4zM756.2,1063.8h8.4v10h-8.4zM758.9,1064.5h8.4v10h-8.4zM761.7,1065.1h8.4v10h-8.4z" fill="#000"/>
<path d="M147.0,665.0 V1173.0 H834.0 V665.0" stroke="#5a5a5a" stroke-width="2.8" fill="none"/>
<path d="M145.6,665.0 H835.4" stroke="#222" stroke-width="2.2"/>
<rect x="360.6" y="707.6" width="404.4" height="169.4" fill="#fff" stroke="#333" stroke-width="2.2"/>
<path d="M391.5,744.9 H495.6" stroke="#000" stroke-width="1.8"/>
<path d="M391.5,794.1 H495.6" stroke="#ff0000" stroke-width="1.8"/>
<path d="M391.5,845.4 H495.6" stroke="#00ff00" stroke-width="1.8"/>
<path d="M437,738h11v9h-11z" fill="#000"/>
<circle cx="443.5" cy="793.4" r="6" fill="#ff0000"/>
<path d="M443.3,834.8 L452.1,850.3 L434.9,850.3z" fill="#00ff00"/>
<text transform="translate(507.37,755.60) scale(0.8760,1)" font-family='"Liberation Sans", sans-serif' font-size="39.50" fill="#111" stroke="#111" stroke-width="0.55">C</text>
<text transform="translate(536.78,755.60) scale(1.0229,1)" font-family='"Liberation Sans", sans-serif' font-size="39.50" fill="#111" stroke="#111" stroke-width="0.55">elgard2325</text>
<text transform="translate(506.59,806.30) scale(1.0173,1)" font-family='"Liberation Sans", sans-serif' font-size="39.50" fill="#111" stroke="#111" stroke-width="0.55">PVDF-HFP</text>
<text transform="translate(506.64,856.30) scale(0.9997,1)" font-family='"Liberation Sans", sans-serif' font-size="39.50" fill="#111" stroke="#111" stroke-width="0.55">PVDF</text>
</svg></body></html>
